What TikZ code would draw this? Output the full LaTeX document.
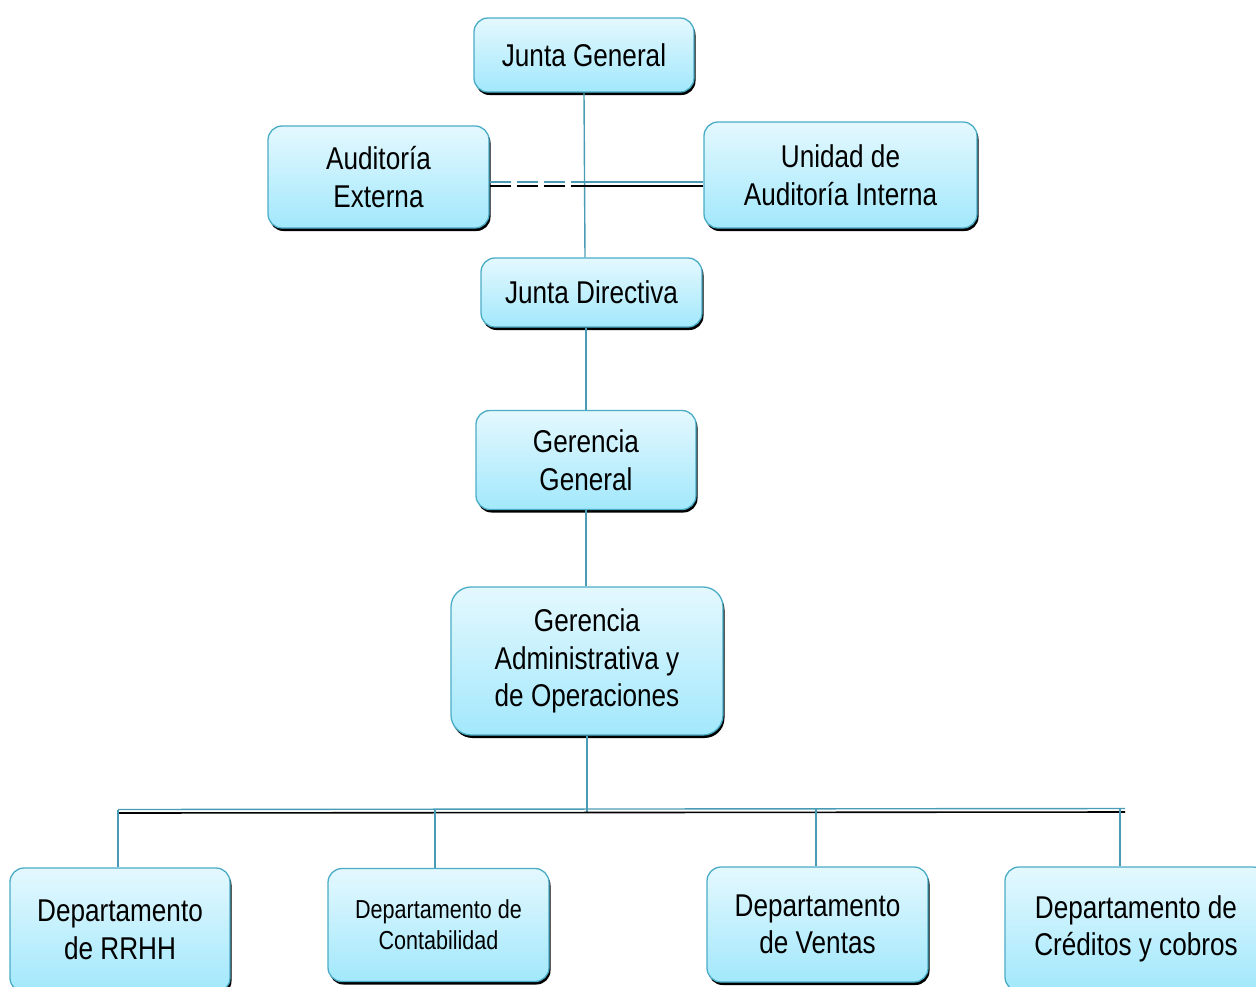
\documentclass[tikz,border=0pt]{standalone}
\usepackage{fontspec}
\setmainfont{Liberation Sans}[FakeStretch=0.83]
\usetikzlibrary{shadows}
\definecolor{boxborder}{HTML}{4BACC6}
\definecolor{boxtop}{HTML}{E4F8FE}
\definecolor{boxbottom}{HTML}{A2E8FC}
\definecolor{linkblue}{HTML}{4A9CB6}
\tikzset{
  orgbox/.style={draw=boxborder, line width=1.3pt, rounded corners=14pt,
    top color=boxtop, bottom color=boxbottom, align=center,
    font=\fontsize{31.5}{37.5}\selectfont, inner sep=0pt,
    drop shadow={shadow xshift=1.5pt, shadow yshift=-3pt, fill=black, opacity=1}},
  smalltext/.style={font=\fontsize{26}{31}\selectfont},
  link/.style={draw=linkblue, line width=1.4pt},
  blackrule/.style={draw=black, line width=1.6pt},
  dashrule/.style={dash pattern=on 21pt off 6pt}
}
\begin{document}
\begin{tikzpicture}[x=1pt, y=-1pt]
\useasboundingbox (0,0) rectangle (1256,986);

% boxes
\node[orgbox, minimum width=220pt, minimum height=74pt] (jg) at (584,55) {Junta General};
\node[orgbox, minimum width=221pt, minimum height=102pt] (ae) at (378.5,177) {Auditoría\\Externa};
\node[orgbox, minimum width=273pt, minimum height=106pt] (ui) at (840.5,175) {Unidad de\\Auditoría Interna};
\node[orgbox, minimum width=221pt, minimum height=69pt] (jd) at (591.5,292.5) {Junta Directiva};
\node[orgbox, minimum width=220pt, minimum height=99pt] (gg) at (586,460) {Gerencia\\General};
\node[orgbox, rounded corners=20pt, minimum width=272pt, minimum height=148pt] (ga) at (587,661) {Gerencia\\Administrativa y\\de Operaciones};
\node[orgbox, minimum width=220pt, minimum height=124pt] (rh) at (120,930) {Departamento\\de RRHH};
\node[orgbox, smalltext, minimum width=221pt, minimum height=113pt] (co) at (438.5,925) {Departamento de\\Contabilidad};
\node[orgbox, minimum width=221pt, minimum height=115pt] (ve) at (817.5,924.5) {Departamento\\de Ventas};
\node[orgbox, minimum width=262pt, minimum height=124pt] (cr) at (1136,929) {Departamento de\\Créditos y cobros};

% junction points
\coordinate (spine) at (584,184);
\coordinate (busL) at (118,811);
\coordinate (busR) at (1125,811);
\coordinate (busM) at (587,811);

% Junta General down to Junta Directiva
\draw[link] (jg.south -| spine) -- ([xshift=1pt]jd.north -| spine);

% auditing links: blue rule above, black rule below
\draw[link, dashrule] ([yshift=2pt]ae.east |- spine) -- ([yshift=2pt]spine);
\draw[blackrule, dashrule] ([yshift=-2pt]ae.east |- spine) -- ([yshift=-2pt]spine);
\draw[link] ([yshift=2pt]spine) -- ([yshift=2pt]ui.west |- spine);
\draw[blackrule] ([yshift=-2pt]spine) -- ([yshift=-2pt]ui.west |- spine);

% main chain
\draw[link] (jd.south -| gg) -- (gg.north);
\draw[link] (gg.south) -- (gg.south |- ga.north);
\draw[link] (ga.south) -- ([yshift=-2pt]busM);

% department bus
\draw[link] ([yshift=1.5pt]busL) -- ([yshift=2.5pt]busR);
\draw[blackrule] ([yshift=-2pt]busL) -- ([yshift=-1pt]busR);
\draw[link] ([yshift=1.5pt]busL) -- (busL |- rh.north);
\draw[link] (435,810) coordinate (tco) -- (tco |- co.north);
\draw[link] (816,809) coordinate (tve) -- (tve |- ve.north);
\draw[link] (1120,809) coordinate (tcr) -- (tcr |- cr.north);
\end{tikzpicture}
\end{document}
